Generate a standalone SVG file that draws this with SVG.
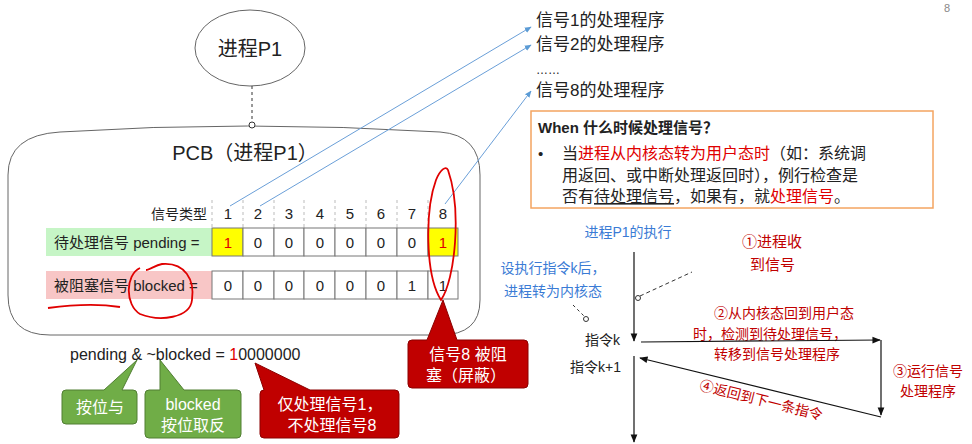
<svg xmlns="http://www.w3.org/2000/svg" width="972" height="444" viewBox="0 0 972 444">
<defs>
<style>
text{font-family:"Liberation Sans","Noto Sans CJK SC",sans-serif;fill:#222}
.cell{fill:#fff;stroke:#777;stroke-width:1}
.yel{fill:#ffff00;stroke:#777;stroke-width:1}
.n{font-size:15px;text-anchor:middle}
.blue{stroke:#6a9fd8;stroke-width:1;fill:none}
.bt{fill:#3a7bd5;font-size:14px}
.ln{stroke:#111;stroke-width:1.2;fill:none}
.g{fill:#70ad47;stroke:#507e32}
.r{fill:#c00000;stroke:#8b0000}
.wt{fill:#fff;font-size:16px;text-anchor:middle}
.hand{stroke:#e00000;stroke-width:1.8;fill:none}
</style>
<marker id="ab" viewBox="0 0 10 10" refX="9" refY="5" markerWidth="7" markerHeight="7" orient="auto"><path d="M0,1 L10,5 L0,9 z" fill="#5b9bd5"/></marker>
<marker id="ak" viewBox="0 0 10 10" refX="9" refY="5" markerWidth="7" markerHeight="7" orient="auto"><path d="M0,1 L10,5 L0,9 z" fill="#111"/></marker>
</defs>
<g id="process">
<ellipse cx="250" cy="48" rx="55" ry="38" fill="#fff" stroke="#666"/>
<text x="250" y="56" font-size="20" text-anchor="middle">进程P1</text>
</g>
<g id="pcb">
<path d="M60,132 Q245,120 440,132 Q480,135 480,175 L480,300 Q480,335 440,335 L50,335 Q8,335 8,295 L8,175 Q8,135 60,132 Z" fill="#fff" stroke="#666"/>
<text x="245" y="160" font-size="20" text-anchor="middle">PCB（进程P1）</text>
<text x="207" y="219" font-size="14" text-anchor="end">信号类型</text>
<g class="n">
<text x="228" y="219">1</text><text x="258" y="219">2</text><text x="289" y="219">3</text><text x="320" y="219">4</text><text x="350" y="219">5</text><text x="381" y="219">6</text><text x="412" y="219">7</text><text x="443" y="219">8</text>
</g>
<g stroke="#bbb" stroke-dasharray="3,3"><line x1="212" y1="200" x2="212" y2="228"/><line x1="243" y1="200" x2="243" y2="228"/><line x1="274" y1="200" x2="274" y2="228"/><line x1="304" y1="200" x2="304" y2="228"/><line x1="335" y1="200" x2="335" y2="228"/><line x1="366" y1="200" x2="366" y2="228"/><line x1="397" y1="200" x2="397" y2="228"/><line x1="428" y1="200" x2="428" y2="228"/></g>
<rect x="46" y="228" width="166" height="28" fill="#c6f5c6"/>
<text x="54" y="248" font-size="15">待处理信号 pending =</text>
<rect x="46" y="271" width="166" height="28" fill="#f8c6c6"/>
<text x="54" y="291" font-size="15">被阻塞信号 blocked =</text>
<rect class="yel" x="212" y="228" width="31" height="28"/><rect class="cell" x="243" y="228" width="31" height="28"/><rect class="cell" x="274" y="228" width="30" height="28"/><rect class="cell" x="304" y="228" width="31" height="28"/><rect class="cell" x="335" y="228" width="31" height="28"/><rect class="cell" x="366" y="228" width="31" height="28"/><rect class="cell" x="397" y="228" width="31" height="28"/><rect class="yel" x="428" y="228" width="30" height="28"/>
<g class="n"><text x="228" y="248" style="fill:#e00000">1</text><text x="258" y="248">0</text><text x="289" y="248">0</text><text x="320" y="248">0</text><text x="350" y="248">0</text><text x="381" y="248">0</text><text x="412" y="248">0</text><text x="443" y="248" style="fill:#e00000">1</text></g>
<rect class="cell" x="212" y="271" width="31" height="28"/><rect class="cell" x="243" y="271" width="31" height="28"/><rect class="cell" x="274" y="271" width="30" height="28"/><rect class="cell" x="304" y="271" width="31" height="28"/><rect class="cell" x="335" y="271" width="31" height="28"/><rect class="cell" x="366" y="271" width="31" height="28"/><rect class="cell" x="397" y="271" width="31" height="28"/><rect class="cell" x="428" y="271" width="30" height="28"/>
<g class="n"><text x="228" y="291">0</text><text x="258" y="291">0</text><text x="289" y="291">0</text><text x="320" y="291">0</text><text x="350" y="291">0</text><text x="381" y="291">0</text><text x="412" y="291">1</text><text x="443" y="291">1</text></g>
</g>
<g id="handlers">
<text x="536" y="26" font-size="17">信号1的处理程序</text>
<text x="536" y="50" font-size="17">信号2的处理程序</text>
<text x="536" y="74" font-size="12">……</text>
<text x="536" y="96" font-size="17">信号8的处理程序</text>
</g>
<g id="when">
<rect x="531" y="111" width="402" height="97" fill="#fff" stroke="#f4a460" stroke-width="1.5"/>
<text x="538" y="133" font-size="15" font-weight="bold">When 什么时候处理信号？</text>
<text x="538" y="159" font-size="15">•</text>
<text x="562" y="159" font-size="16">当<tspan style="fill:#e00000">进程从内核态转为用户态时</tspan>（如：系统调</text>
<text x="562" y="181" font-size="16">用返回、或中断处理返回时），例行检查是</text>
<text x="562" y="202" font-size="16">否有<tspan text-decoration="underline">待处理信号</tspan>，如果有，就<tspan style="fill:#e00000">处理信号</tspan>。</text>
</g>
<g id="formula">
<text x="70" y="360" font-size="16">pending &amp; ~blocked = <tspan style="fill:#e00000">1</tspan>0000000</text>
</g>
<g id="callout-and">
<path d="M66,390 L104,390 L137,360 L122,390 L133,390 Q137,390 137,394 L137,420 Q137,424 133,424 L66,424 Q62,424 62,420 L62,394 Q62,390 66,390 Z" class="g"/>
<text class="wt" x="100" y="413">按位与</text>
</g>
<g id="callout-not">
<path d="M149,390 L160,390 L160,360 L184,390 L237,390 Q241,390 241,394 L241,434 Q241,438 237,438 L149,438 Q145,438 145,434 L145,394 Q145,390 149,390 Z" class="g"/>
<text class="wt" x="193" y="410">blocked</text><text class="wt" x="193" y="431">按位取反</text>
</g>
<g id="callout-only">
<path d="M264,390 L255,363 L310,390 L395,390 Q399,390 399,394 L399,434 Q399,438 395,438 L264,438 Q260,438 260,434 L260,394 Q260,390 264,390 Z" class="r"/>
<text class="wt" x="330" y="410">仅处理信号1，</text><text class="wt" x="332" y="431">不处理信号8</text>
</g>
<g id="callout-8">
<path d="M412,340 L427,340 L443,300 L457,340 L524,340 Q528,340 528,344 L528,384 Q528,388 524,388 L412,388 Q408,388 408,384 L408,344 Q408,340 412,340 Z" class="r"/>
<text class="wt" x="468" y="360">信号8 被阻</text><text class="wt" x="466" y="381">塞（屏蔽）</text>
</g>
<g id="timeline">
<text class="bt" x="628" y="237" text-anchor="middle">进程P1的执行</text>
<text class="bt" x="553" y="273" text-anchor="middle">设执行指令k后，</text>
<text class="bt" x="553" y="296" text-anchor="middle">进程转为内核态</text>
<text x="742" y="247" font-size="15" style="fill:#c00000">①进程收</text>
<text x="750" y="270" font-size="15" style="fill:#c00000">到信号</text>
<text x="620" y="345" font-size="14" text-anchor="end">指令k</text>
<text x="621" y="372" font-size="14" text-anchor="end">指令k+1</text>
<text x="784" y="318" font-size="14" text-anchor="middle" style="fill:#c00000">②从内核态回到用户态</text>
<text x="770" y="339" font-size="14" text-anchor="middle" style="fill:#c00000">时，检测到待处理信号，</text>
<text x="777" y="359" font-size="14" text-anchor="middle" style="fill:#c00000">转移到信号处理程序</text>
<text x="928" y="376" font-size="14" text-anchor="middle" style="fill:#c00000">③运行信号</text>
<text x="928" y="396" font-size="14" text-anchor="middle" style="fill:#c00000">处理程序</text>
<text x="760" y="405" font-size="14" text-anchor="middle" transform="rotate(14 760 405)" style="fill:#c00000">④返回到下一条指令</text>
</g>
<g id="connectors">
<line x1="252" y1="86" x2="252" y2="122" stroke="#333" stroke-dasharray="3,3"/>
<circle cx="252" cy="125" r="3" fill="#fff" stroke="#333"/>
<line class="blue" x1="230" y1="206" x2="531" y2="27" marker-end="url(#ab)"/>
<line class="blue" x1="260" y1="206" x2="531" y2="45" marker-end="url(#ab)"/>
<line class="blue" x1="445" y1="204" x2="531" y2="91" marker-end="url(#ab)"/>
<line class="ln" x1="634" y1="252" x2="634" y2="341" marker-end="url(#ak)"/>
<line class="ln" x1="634" y1="356" x2="634" y2="442" marker-end="url(#ak)"/>
<line class="ln" x1="641" y1="342" x2="880" y2="340" marker-end="url(#ak)"/>
<line class="ln" x1="881" y1="340" x2="881" y2="415" marker-end="url(#ak)"/>
<line class="ln" x1="881" y1="417" x2="640" y2="358" marker-end="url(#ak)"/>
<line x1="640" y1="296" x2="692" y2="272" stroke="#333" stroke-dasharray="4,3"/>
<circle cx="638" cy="298" r="2.5" fill="#fff" stroke="#333"/>
<line x1="573" y1="305" x2="584" y2="316" stroke="#333" stroke-dasharray="3,3"/>
<circle cx="586" cy="319" r="2.5" fill="#fff" stroke="#333"/>
</g>
<g id="annotations">
<path class="hand" d="M436,180 C425,210 425,275 441,300 C455,280 462,210 448,170 C446,165 440,170 436,180"/>
<path class="hand" d="M140,268 C125,275 125,305 140,314 C160,322 190,318 192,300 C195,280 185,262 162,264 C155,265 150,270 146,270"/>
<path class="hand" d="M48,308 C70,305 95,303 120,307"/>
</g>
<text x="944" y="12" font-size="11" style="fill:#888">8</text>
</svg>
